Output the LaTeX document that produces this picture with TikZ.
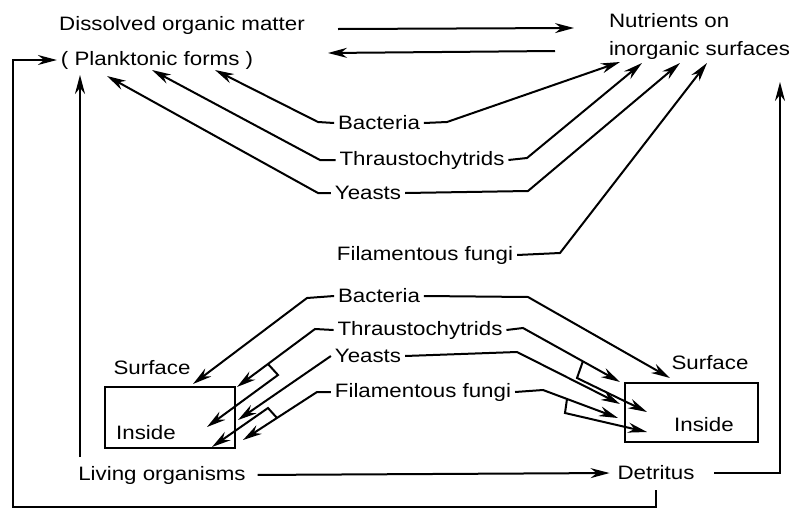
\documentclass[tikz,border=0pt]{standalone}
\usepackage{fontspec}
\setmainfont{Liberation Sans}[FakeStretch=1.15]
\usepackage{tikz}
\usetikzlibrary{arrows.meta,calc}

\begin{document}
\begin{tikzpicture}[x=0.5pt,y=-0.5pt,>={Stealth[length=9.5pt,width=5pt]},line width=1pt,
		lbl/.style={inner sep=1.5pt,font=\fontsize{9.7}{14}\selectfont},
		box/.style={draw,rectangle,inner sep=0pt}]
	
	\useasboundingbox (0,0) rectangle (799,509);
	
	\node[lbl] (dom) at (182,25) {Dissolved organic matter};
	\node[lbl] (plank) at (157,60) {( Planktonic forms )};
	\node[lbl,align=left,anchor=west] (nut) at (605,36) {Nutrients on\\inorganic surfaces};
	
	\coordinate (d1) at (338,29);
	\coordinate (n1) at (574,28);
	\coordinate (n2) at (555,51);
	\coordinate (d2) at (328,53);
	\draw[->] (d1) -- (n1);
	\draw[->] (n2) -- (d2);
	
	\node[lbl] (bac1) at (379,123) {Bacteria};
	\node[lbl] (thr1) at (422,160) {Thraustochytrids};
	\node[lbl] (yea1) at (368,193) {Yeasts};
	\node[lbl] (fil1) at (425,255) {Filamentous fungi};
	
	\coordinate (b1l) at (318,122);
	\coordinate (b1lt) at (215,70);
	\coordinate (b1r) at (447,122);
	\coordinate (b1rt) at (620,62);
	\coordinate (t1l) at (320,160);
	\coordinate (t1lt) at (152,70);
	\coordinate (t1r) at (527,158);
	\coordinate (t1rt) at (642,63);
	\coordinate (y1l) at (318,193);
	\coordinate (y1lt) at (107,76);
	\coordinate (y1r) at (528,191);
	\coordinate (y1rt) at (680,63);
	\coordinate (f1r) at (560,253);
	\coordinate (f1rt) at (707,63);
	
	\draw[->] (bac1.west) -- (b1l) -- (b1lt);
	\draw[->] (bac1.east) -- (b1r) -- (b1rt);
	\draw[->] (thr1.west) -- (t1l) -- (t1lt);
	\draw[->] (thr1.east) -- (t1r) -- (t1rt);
	\draw[->] (yea1.west) -- (y1l) -- (y1lt);
	\draw[->] (yea1.east) -- (y1r) -- (y1rt);
	\draw[->] (fil1.east) -- (f1r) -- (f1rt);
	
	\node[lbl] (bac2) at (379,296) {Bacteria};
	\node[lbl] (thr2) at (420,330) {Thraustochytrids};
	\node[lbl] (yea2) at (368,356) {Yeasts};
	\node[lbl] (fil2) at (423,392) {Filamentous fungi};
	
	\node[box,minimum width=65pt,minimum height=30.5pt] (lbox) at (170,417.5) {};
	\node[box,minimum width=66.5pt,minimum height=29.5pt] (rbox) at (691.5,412.5) {};
	\node[lbl] (lsurf) at (152,368) {Surface};
	\node[lbl] (lins) at (146,433) {Inside};
	\node[lbl] (rsurf) at (710,363) {Surface};
	\node[lbl] (rins) at (704,425) {Inside};
	
	\coordinate (b2l) at (307,298);
	\coordinate (b2lt) at (193,384);
	\coordinate (t2l) at (315,329);
	\coordinate (t2lt) at (237,387);
	\coordinate (t2lp) at (268,364);
	\coordinate (t2lq) at (278,375);
	\coordinate (t2lt2) at (207,427);
	\coordinate (y2lt) at (238,420);
	\coordinate (f2l) at (317,392);
	\coordinate (f2lt) at (243,440);
	\coordinate (f2lp) at (277,418);
	\coordinate (f2lq) at (268,408);
	\coordinate (f2lt2) at (212,447);
	
	\draw[->] (bac2.west) -- (b2l) -- (b2lt);
	\draw[->] (thr2.west) -- (t2l) -- (t2lt);
	\draw[->] (t2lp) -- (t2lq) -- (t2lt2);
	\draw[->] (yea2.west) -- (y2lt);
	\draw[->] (fil2.west) -- (f2l) -- (f2lt);
	\draw[->] (f2lp) -- (f2lq) -- (f2lt2);
	
	\coordinate (b2r) at (528,297);
	\coordinate (b2rt) at (670,378);
	\coordinate (t2r) at (523,328);
	\coordinate (t2rt) at (620,382);
	\coordinate (t2rp) at (583,361);
	\coordinate (t2rq) at (577,378);
	\coordinate (t2rt2) at (647,412);
	\coordinate (y2r) at (517,352);
	\coordinate (y2rt) at (620,404);
	\coordinate (f2r) at (543,390);
	\coordinate (f2rt) at (618,418);
	\coordinate (f2rp) at (567,399);
	\coordinate (f2rq) at (565,413);
	\coordinate (f2rt2) at (647,432);
	
	\draw[->] (bac2.east) -- (b2r) -- (b2rt);
	\draw[->] (thr2.east) -- (t2r) -- (t2rt);
	\draw[->] (t2rp) -- (t2rq) -- (t2rt2);
	\draw[->] (yea2.east) -- (y2r) -- (y2rt);
	\draw[->] (fil2.east) -- (f2r) -- (f2rt);
	\draw[->] (f2rp) -- (f2rq) -- (f2rt2);
	
	\node[lbl] (liv) at (162,475) {Living organisms};
	\node[lbl] (det) at (656,473) {Detritus};
	
	\coordinate (lv) at (80,457);
	\coordinate (lvt) at (80,75);
	\coordinate (rt) at (780,82);
	\coordinate (bl) at (13,507);
	
	\draw[->,shorten <=4pt,shorten >=2pt] (liv.east) -- (det.west);
	\draw[->] (lv) -- (lvt);
	\draw[->,shorten <=8pt] (det.east) -- (det.east -| rt) -- (rt);
	\draw[->,shorten <=3pt] (det.south) -- (det.south |- bl) -- (bl) -- (bl |- plank.west) -- (plank.west);
	
\end{tikzpicture}
\end{document}
